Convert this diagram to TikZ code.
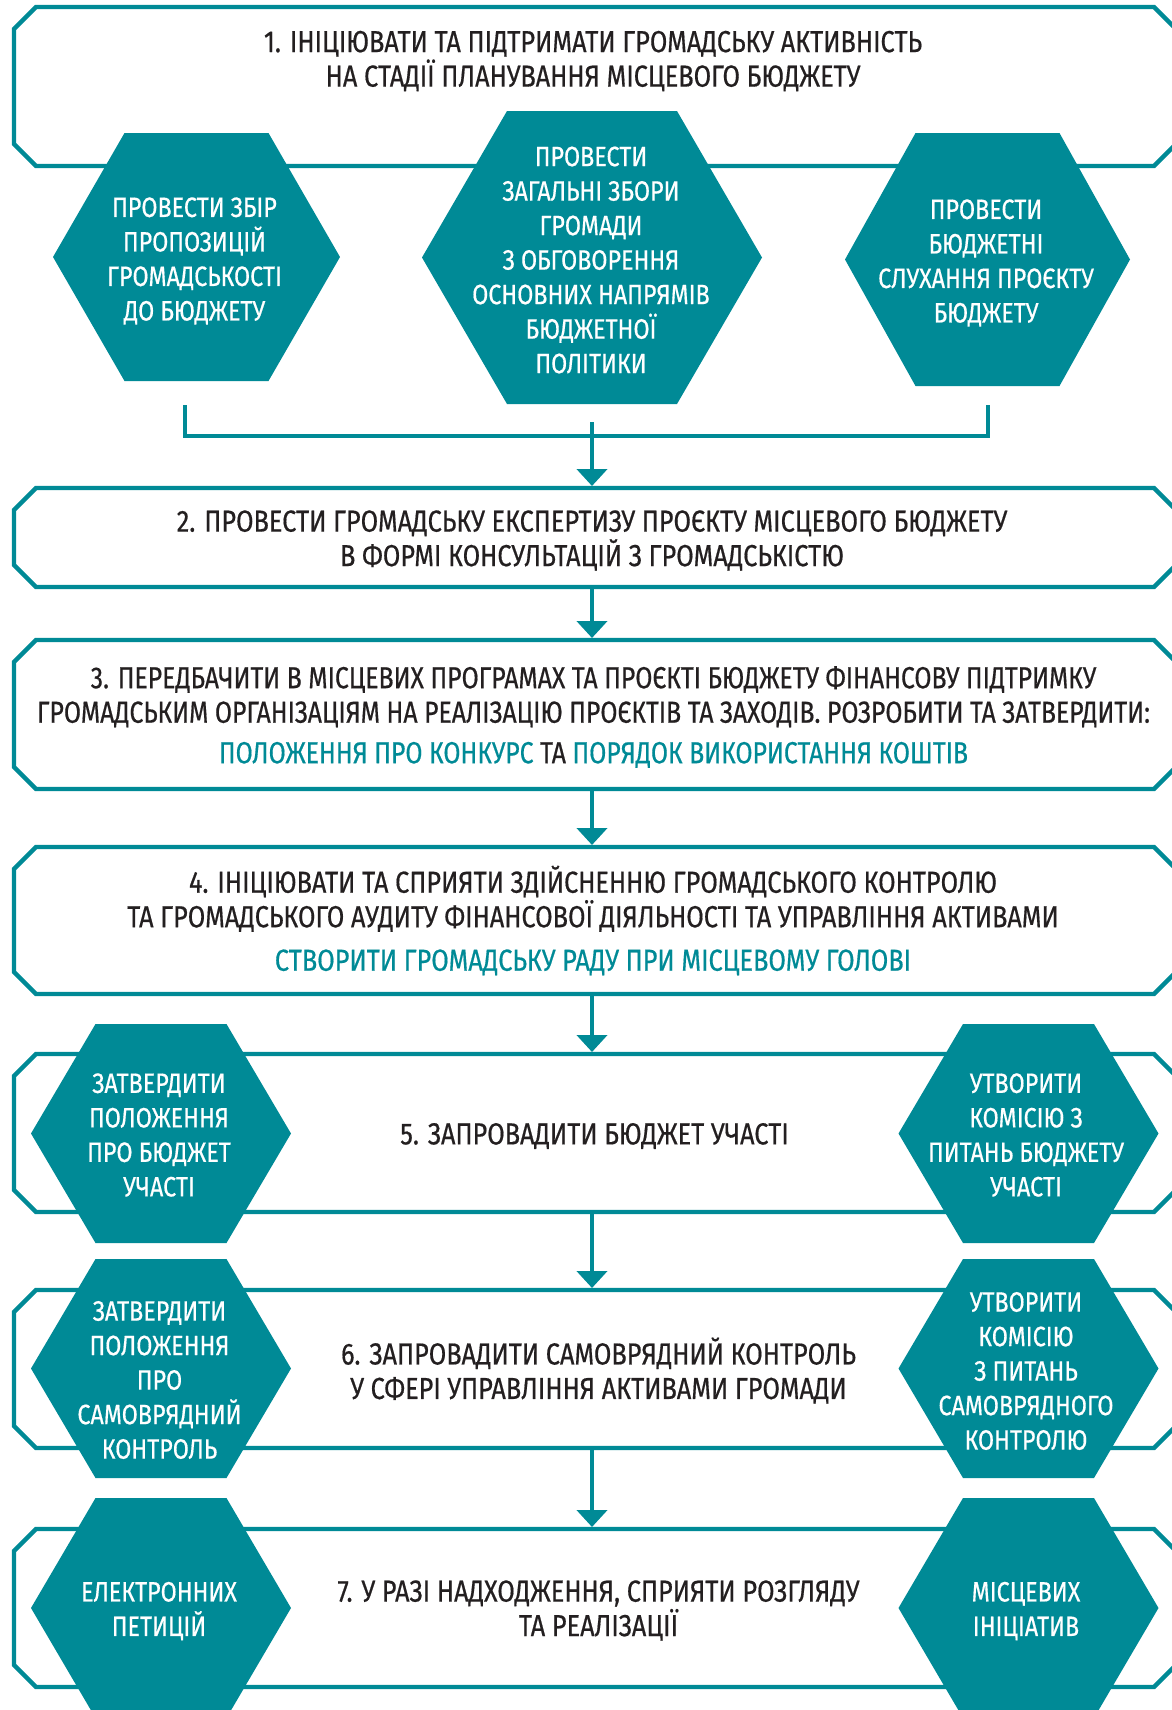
\documentclass[tikz,border=0pt]{standalone}
\usepackage{fontspec}
\setmainfont{Fira Sans}[FakeStretch=0.832,FakeBold=0.5]
\usetikzlibrary{arrows.meta}
\definecolor{tealc}{RGB}{0,138,150}
\definecolor{txt}{RGB}{35,31,32}
\newcommand\mainsz{\fontsize{15.2pt}{17.25pt}\selectfont}
\newcommand\hexsz{\fontsize{14pt}{17.25pt}\selectfont}
% hexagon: x, y, half width, half top width, half height
\newcommand\hexa[5]{\fill[tealc] (#1-#3,#2) -- (#1-#4,#2-#5) -- (#1+#4,#2-#5) -- (#1+#3,#2) -- (#1+#4,#2+#5) -- (#1-#4,#2+#5) -- cycle;}
% chamfered outline round a named box node
\newcommand\chbox[1]{\draw[boxline] ([xshift=11pt]#1.north west) -- ([xshift=-11pt]#1.north east) -- ([yshift=-11pt]#1.north east) -- ([yshift=11pt]#1.south east) -- ([xshift=-11pt]#1.south east) -- ([xshift=11pt]#1.south west) -- ([yshift=11pt]#1.south west) -- ([yshift=-11pt]#1.north west) -- cycle;}
\begin{document}
\begin{tikzpicture}[x=0.5pt,y=-0.5pt,
  stepbox/.style={rectangle, draw=none, inner sep=0pt, outer sep=0pt, minimum width=581pt},
  boxline/.style={draw=tealc, line width=2.2pt, line join=miter},
  mtext/.style={text=txt, align=center, font=\mainsz, inner sep=0pt},
  htext/.style={text=white, align=center, font=\hexsz, inner sep=0pt},
  conn/.style={draw=tealc, line width=2.2pt},
  arr/.style={conn, -{Triangle[width=15pt,length=8.5pt]}, shorten >=1pt}]
\useasboundingbox (0,0) rectangle (1172,1710);
\clip (0,0) rectangle (1172,1710);
\fill[white] (0,0) rectangle (1172,1710);

% boxes
\node[stepbox, minimum height=79.5pt] (b1) at (595,86.5) {};
\node[stepbox, minimum height=49.5pt] (b2) at (595,537.5) {};
\node[stepbox, minimum height=74.5pt] (b3) at (595,714.5) {};
\node[stepbox, minimum height=73.5pt] (b4) at (595,920.5) {};
\node[stepbox, minimum height=79pt] (b5) at (595,1133) {};
\node[stepbox, minimum height=79pt] (b6) at (595,1369) {};
\node[stepbox, minimum height=79pt] (b7) at (595,1608) {};
\chbox{b1}\chbox{b2}\chbox{b3}\chbox{b4}\chbox{b5}\chbox{b6}\chbox{b7}

% hexagons
\hexa{196.5}{257}{143.5}{72}{124}
\hexa{592}{257.5}{170}{85}{146.5}
\hexa{987.5}{259.5}{142.5}{72}{126.5}
\hexa{161}{1133.5}{130}{65.5}{109.5}
\hexa{1028.5}{1133.5}{130}{65.5}{109.5}
\hexa{161}{1368.5}{130}{65.5}{109.5}
\hexa{1028.5}{1368.5}{130}{65.5}{109.5}
\hexa{161}{1608}{130}{65.5}{110}
\hexa{1028.5}{1608}{130}{65.5}{110}

% box texts
\node[mtext] (t1) at (593,61) {1. ІНІЦІЮВАТИ ТА ПІДТРИМАТИ ГРОМАДСЬКУ АКТИВНІСТЬ\\НА СТАДІЇ ПЛАНУВАННЯ МІСЦЕВОГО БЮДЖЕТУ};
\node[mtext] (t2) at (592,540.5) {2. ПРОВЕСТИ ГРОМАДСЬКУ ЕКСПЕРТИЗУ ПРОЄКТУ МІСЦЕВОГО БЮДЖЕТУ\\В ФОРМІ КОНСУЛЬТАЦІЙ З ГРОМАДСЬКІСТЮ};
\node[mtext, font=\mainsz\addfontfeature{FakeStretch=0.815}] (t3) at (593.5,717) {3. ПЕРЕДБАЧИТИ В МІСЦЕВИХ ПРОГРАМАХ ТА ПРОЄКТІ БЮДЖЕТУ ФІНАНСОВУ ПІДТРИМКУ\\ГРОМАДСЬКИМ ОРГАНІЗАЦІЯМ НА РЕАЛІЗАЦІЮ ПРОЄКТІВ ТА ЗАХОДІВ. РОЗРОБИТИ ТА ЗАТВЕРДИТИ:\\[3pt]{\color{tealc}ПОЛОЖЕННЯ ПРО КОНКУРС} ТА {\color{tealc}ПОРЯДОК ВИКОРИСТАННЯ КОШТІВ}};
\node[mtext] (t4) at (593,920.5) {4. ІНІЦІЮВАТИ ТА СПРИЯТИ ЗДІЙСНЕННЮ ГРОМАДСЬКОГО КОНТРОЛЮ\\ТА ГРОМАДСЬКОГО АУДИТУ ФІНАНСОВОЇ ДІЯЛЬНОСТІ ТА УПРАВЛІННЯ АКТИВАМИ\\[4.5pt]{\color{tealc}СТВОРИТИ ГРОМАДСЬКУ РАДУ ПРИ МІСЦЕВОМУ ГОЛОВІ}};
\node[mtext] (t5) at (594.5,1136) {5. ЗАПРОВАДИТИ БЮДЖЕТ УЧАСТІ};
\node[mtext] (t6) at (598.5,1370.5) {6. ЗАПРОВАДИТИ САМОВРЯДНИЙ КОНТРОЛЬ\\У СФЕРІ УПРАВЛІННЯ АКТИВАМИ ГРОМАДИ};
\node[mtext] (t7) at (598.5,1610.5) {7. У РАЗІ НАДХОДЖЕННЯ, СПРИЯТИ РОЗГЛЯДУ\\ТА РЕАЛІЗАЦІЇ};

% hexagon texts
\node[htext] (h1) at (194.5,261) {ПРОВЕСТИ ЗБІР\\ПРОПОЗИЦІЙ\\ГРОМАДСЬКОСТІ\\ДО БЮДЖЕТУ};
\node[htext] (h2) at (591,260) {ПРОВЕСТИ\\ЗАГАЛЬНІ ЗБОРИ\\ГРОМАДИ\\З ОБГОВОРЕННЯ\\ОСНОВНИХ НАПРЯМІВ\\БЮДЖЕТНОЇ\\ПОЛІТИКИ};
\node[htext] (h3) at (986,263) {ПРОВЕСТИ\\БЮДЖЕТНІ\\СЛУХАННЯ ПРОЄКТУ\\БЮДЖЕТУ};
\node[htext] (h4) at (159,1135) {ЗАТВЕРДИТИ\\ПОЛОЖЕННЯ\\ПРО БЮДЖЕТ\\УЧАСТІ};
\node[htext] (h5) at (1026,1135) {УТВОРИТИ\\КОМІСІЮ З\\ПИТАНЬ БЮДЖЕТУ\\УЧАСТІ};
\node[htext] (h6) at (159.5,1380) {ЗАТВЕРДИТИ\\ПОЛОЖЕННЯ\\ПРО\\САМОВРЯДНИЙ\\КОНТРОЛЬ};
\node[htext] (h7) at (1026,1371) {УТВОРИТИ\\КОМІСІЮ\\З ПИТАНЬ\\САМОВРЯДНОГО\\КОНТРОЛЮ};
\node[htext] (h8) at (159,1611) {ЕЛЕКТРОННИХ\\ПЕТИЦІЙ};
\node[htext] (h9) at (1026,1611) {МІСЦЕВИХ\\ІНІЦІАТИВ};

% bracket and connectors
\coordinate (ax) at (592,0);
\coordinate (bl) at (185,405);
\coordinate (blb) at (185,436);
\coordinate (brb) at (988,436);
\coordinate (br) at (988,405);
\coordinate (mtop) at (592,422);
\draw[conn] (bl) -- (blb) -- (brb) -- (br);
\draw[arr] (mtop) -- (b2.north -| ax);
\draw[arr] (b2.south -| ax) -- (b3.north -| ax);
\draw[arr] (b3.south -| ax) -- (b4.north -| ax);
\draw[arr] (b4.south -| ax) -- (b5.north -| ax);
\draw[arr] (b5.south -| ax) -- (b6.north -| ax);
\draw[arr] (b6.south -| ax) -- (b7.north -| ax);
\end{tikzpicture}
\end{document}
